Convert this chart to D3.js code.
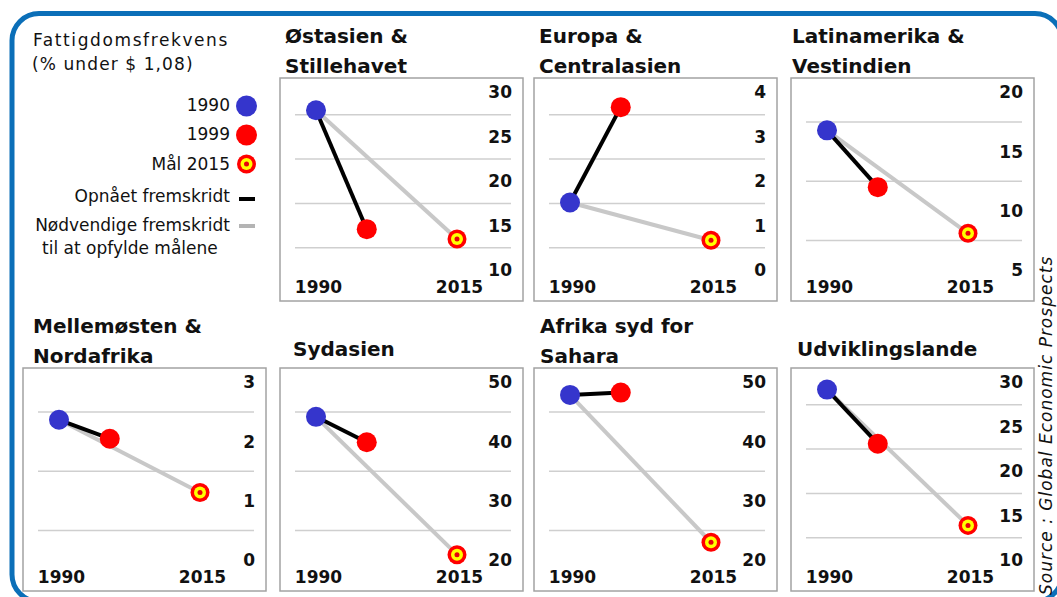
<!DOCTYPE html>
<html>
<head>
  <meta charset="utf-8">
  <style>
    body { margin: 0; background: #fff; }
    svg text { font-family: "DejaVu Sans", Verdana, sans-serif; }
    .title { font-weight: bold; font-size: 20px; fill: #111; }
    .tick text { font-weight: bold; font-size: 17px; fill: #111; }
    .legend { font-size: 17px; fill: #111; }
    .grid { stroke: #cfcfcf; stroke-width: 1.5; }
    .box { fill: none; stroke: #a3a3a3; stroke-width: 1.5; }
  </style>
</head>
<body>
  <script src="https://d3js.org/d3.v7.min.js"></script>
  <svg width="1057" height="597"></svg>
  <script>
    // data (poverty rate, % under $1.08)
    var titles = [
      ["Østasien &", "Stillehavet"],
      ["Europa &", "Centralasien"],
      ["Latinamerika &", "Vestindien"],
      ["Mellemøsten &", "Nordafrika"],
      ["Sydasien"],
      ["Afrika syd for", "Sahara"],
      ["Udviklingslande"]
    ];
    var years = [1990, 1999, 2015];
    var v1990 = [28.0, 1.52, 16.8, 2.37, 44.2, 47.9, 29.2];
    var v1999 = [14.6, 3.67, 12.0, 2.05, 39.9, 48.3, 23.1];
    var goal2015 = [13.5, 0.67, 8.1, 1.14, 20.9, 23.0, 13.9];
    var yTicks = [
      [10, 15, 20, 25, 30],
      [0, 1, 2, 3, 4],
      [5, 10, 15, 20],
      [0, 1, 2, 3],
      [20, 30, 40, 50],
      [20, 30, 40, 50],
      [10, 15, 20, 25, 30]
    ];
    var legendLabels = ["1990", "1999", "Mål 2015", "Opnået fremskridt", "Nødvendige fremskridt"];

    // layout
    var colX = [23, 280, 534, 791], rowY = [78, 368];
    var panelCol = [1, 2, 3, 0, 1, 2, 3], panelRow = [0, 0, 0, 1, 1, 1, 1];
    var titleDx = [5, 5, 1, 10, 13, 6, 6];
    var boxW = 243, boxH = 223;

    var svg = d3.select("svg");

    // outer blue frame
    svg.append("rect")
      .attr("x", 12).attr("y", 13.5)
      .attr("width", 1050).attr("height", 588)
      .attr("rx", 27)
      .attr("fill", "none")
      .attr("stroke", "#0b6fb8")
      .attr("stroke-width", 5);

    titles.forEach(function(t, i) {
      var left = colX[panelCol[i]], top = rowY[panelRow[i]];
      var g = svg.append("g").attr("transform", "translate(" + left + "," + top + ")");

      g.append("rect").attr("class", "box")
        .attr("x", 0).attr("y", 0).attr("width", boxW).attr("height", boxH);

      var ticks = yTicks[i];
      var y = d3.scaleLinear()
        .domain([ticks[0], ticks[ticks.length - 1]])
        .range([192, 14.5]);
      var x = d3.scaleLinear().domain([1990, 2015]).range([36, 177]);

      // grid lines sit halfway between the tick labels
      var mids = d3.pairs(ticks).map(function(p) { return (p[0] + p[1]) / 2; });
      g.selectAll(".grid").data(mids).enter().append("line")
        .attr("class", "grid")
        .attr("x1", 15).attr("x2", 231)
        .attr("y1", function(d) { return y(d); })
        .attr("y2", function(d) { return y(d); });

      var ya = g.append("g")
        .attr("transform", "translate(232,0)")
        .call(d3.axisLeft(y).tickValues(ticks).tickFormat(d3.format("d")).tickSize(0).tickPadding(0));
      ya.select(".domain").remove();
      ya.attr("font-family", null).attr("font-size", null);

      var xa = g.append("g")
        .attr("transform", "translate(2," + (boxH - 20) + ")")
        .call(d3.axisBottom(x).tickValues([1990, 2015]).tickFormat(d3.format("d")).tickSize(0).tickPadding(0));
      xa.select(".domain").remove();
      xa.attr("font-family", null).attr("font-size", null);

      // needed progress (grey) then achieved progress (black)
      g.append("line")
        .attr("x1", x(years[0])).attr("y1", y(v1990[i]))
        .attr("x2", x(years[2])).attr("y2", y(goal2015[i]))
        .attr("stroke", "#c8c8c8").attr("stroke-width", 4);
      g.append("line")
        .attr("x1", x(years[0])).attr("y1", y(v1990[i]))
        .attr("x2", x(years[1])).attr("y2", y(v1999[i]))
        .attr("stroke", "#000").attr("stroke-width", 4);

      g.append("circle").attr("cx", x(years[0])).attr("cy", y(v1990[i])).attr("r", 10).attr("fill", "#3535cc");
      g.append("circle").attr("cx", x(years[1])).attr("cy", y(v1999[i])).attr("r", 10).attr("fill", "#ff0000");
      target(g, x(years[2]), y(goal2015[i]));

      // titles
      var tt = g.append("text").attr("class", "title").attr("x", titleDx[i]);
      if (t.length === 2) {
        tt.append("tspan").attr("x", titleDx[i]).attr("y", -35).text(t[0]);
        tt.append("tspan").attr("x", titleDx[i]).attr("y", -5).text(t[1]);
      } else {
        tt.attr("y", -12).text(t[0]);
      }
    });

    function target(sel, cx, cy) {
      sel.append("circle").attr("cx", cx).attr("cy", cy).attr("r", 9.5).attr("fill", "#ff0000");
      sel.append("circle").attr("cx", cx).attr("cy", cy).attr("r", 6).attr("fill", "#ffff00");
      sel.append("circle").attr("cx", cx).attr("cy", cy).attr("r", 2.5).attr("fill", "#e8000b");
    }

    // legend
    var lg = svg.append("g");
    lg.append("text").attr("class", "legend").attr("x", 33).attr("y", 46)
      .style("letter-spacing", "1.6px").text("Fattigdomsfrekvens");
    lg.append("text").attr("class", "legend").attr("x", 32).attr("y", 70)
      .style("letter-spacing", "1.1px").text("(% under $ 1,08)");

    var legY = [105, 134.5, 164, 196, 225];
    legendLabels.forEach(function(l, i) {
      lg.append("text").attr("class", "legend")
        .attr("x", 230).attr("y", legY[i]).attr("dy", "0.35em")
        .attr("text-anchor", "end").text(l);
    });
    lg.append("circle").attr("cx", 246.5).attr("cy", legY[0] + 1).attr("r", 10.5).attr("fill", "#3535cc");
    lg.append("circle").attr("cx", 246.5).attr("cy", legY[1] + 0.5).attr("r", 10.5).attr("fill", "#ff0000");
    target(lg, 246.5, legY[2]);
    lg.append("line").attr("x1", 239).attr("x2", 255).attr("y1", legY[3] + 3).attr("y2", legY[3] + 3)
      .attr("stroke", "#000").attr("stroke-width", 4);
    lg.append("line").attr("x1", 239).attr("x2", 255).attr("y1", legY[4] + 1).attr("y2", legY[4] + 1)
      .attr("stroke", "#b4b4b4").attr("stroke-width", 4);
    lg.append("text").attr("class", "legend").attr("x", 42).attr("y", 248).attr("dy", "0.35em")
      .text("til at opfylde målene");

    // source, rotated
    svg.append("text")
      .attr("transform", "translate(1052,595) rotate(-90)")
      .attr("font-size", 17).attr("font-style", "italic").attr("fill", "#111")
      .style("letter-spacing", "1px")
      .text("Source : Global Economic Prospects");
  </script>
</body>
</html>
